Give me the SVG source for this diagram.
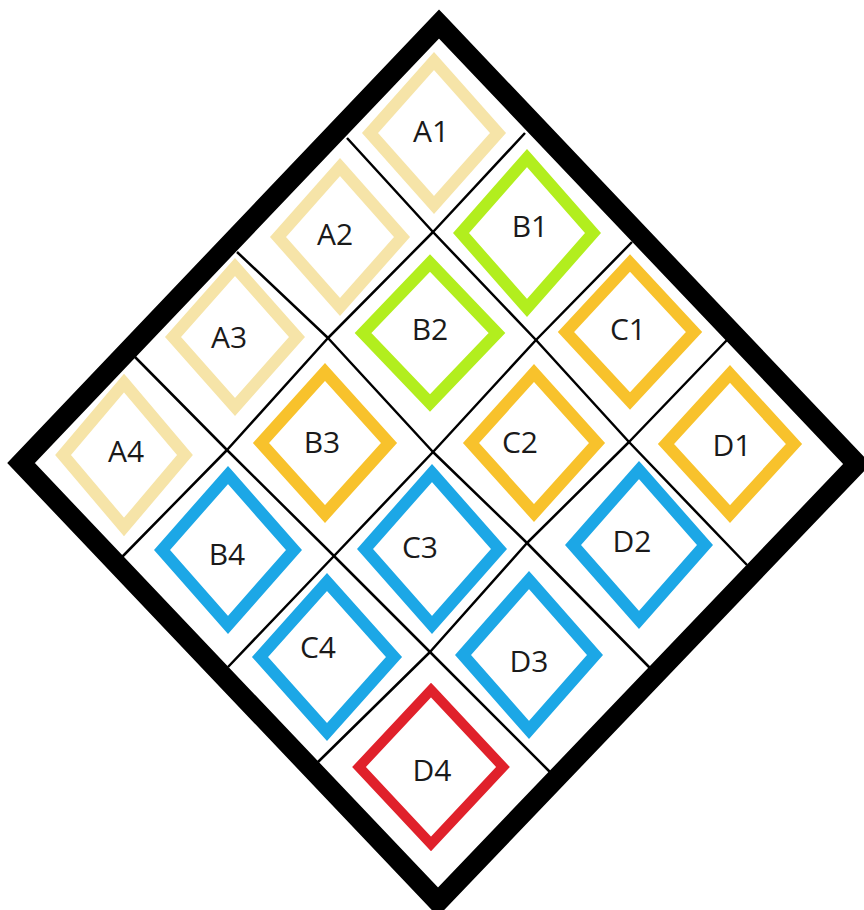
<svg xmlns="http://www.w3.org/2000/svg" width="864" height="910" viewBox="0 0 864 910">
<style>
.cell{fill:none;stroke-width:12;stroke-linejoin:miter}
.a{stroke:#F6E4A8}
.g{stroke:#B2EE1E}
.o{stroke:#F8C22C}
.b{stroke:#1CA7E6}
.r{stroke:#E0212B;stroke-width:10}
.lbl{font-family:"Open Sans","Liberation Sans",sans-serif;font-size:30px;fill:#1a1a1a;text-anchor:middle}
.grid{fill:none;stroke:#000;stroke-width:2.5;stroke-linejoin:round}
</style>
<rect width="864" height="910" fill="#fff"/>
<g id="frame">
<polygon points="439,24 857,464 438,902 21,463" fill="none" stroke="#000" stroke-width="20" stroke-linejoin="miter"/>
</g>
<g id="connectors">
<polyline class="grid" points="525,133 433,232 328,338 227,450 122,557"/>
<polyline class="grid" points="632,242 536,340 433,452 334,556 228,667"/>
<polyline class="grid" points="727,340 629,442 527,543 430,652 318,762"/>
<polyline class="grid" points="347,138 433,232 536,340 629,442 747,565"/>
<polyline class="grid" points="237,252 328,338 433,452 527,543 650,668"/>
<polyline class="grid" points="135,357 227,450 334,556 430,652 550,772"/>
</g>
<g id="A1"><polygon class="cell a" points="434,61 498,133 434,205 370,133"/><text class="lbl" x="431" y="142">A1</text></g>
<g id="A2"><polygon class="cell a" points="340,167 402,237 340,307 278,237"/><text class="lbl" x="335" y="245">A2</text></g>
<g id="A3"><polygon class="cell a" points="235,267 297,337 235,407 173,337"/><text class="lbl" x="229" y="348">A3</text></g>
<g id="A4"><polygon class="cell a" points="124,383 185,455 124,527 63,455"/><text class="lbl" x="126" y="462">A4</text></g>
<g id="B1"><polygon class="cell g" points="527,158 593,233 527,308 461,233"/><text class="lbl" x="530" y="237">B1</text></g>
<g id="B2"><polygon class="cell g" points="430,263 497,333 430,403 363,333"/><text class="lbl" x="430" y="340">B2</text></g>
<g id="B3"><polygon class="cell o" points="325,372 389,443 325,514 261,443"/><text class="lbl" x="322" y="453">B3</text></g>
<g id="B4"><polygon class="cell b" points="228,475 294,550 228,625 162,550"/><text class="lbl" x="227" y="565">B4</text></g>
<g id="C1"><polygon class="cell o" points="630,263 694,332 630,401 566,332"/><text class="lbl" x="628" y="340">C1</text></g>
<g id="C2"><polygon class="cell o" points="534,373 597,443 534,513 471,443"/><text class="lbl" x="520" y="453">C2</text></g>
<g id="C3"><polygon class="cell b" points="432,473 499,549 432,625 365,549"/><text class="lbl" x="420" y="558">C3</text></g>
<g id="C4"><polygon class="cell b" points="327,582 394,657 327,732 260,657"/><text class="lbl" x="318" y="658">C4</text></g>
<g id="D1"><polygon class="cell o" points="730,374 794,444 730,514 666,444"/><text class="lbl" x="732" y="456">D1</text></g>
<g id="D2"><polygon class="cell b" points="639,470 705,545 639,620 573,545"/><text class="lbl" x="632" y="552">D2</text></g>
<g id="D3"><polygon class="cell b" points="529,580 595,655 529,730 463,655"/><text class="lbl" x="529" y="672">D3</text></g>
<g id="D4"><polygon class="cell r" points="431,690 503,767 431,844 359,767"/><text class="lbl" x="432" y="781">D4</text></g>
</svg>
